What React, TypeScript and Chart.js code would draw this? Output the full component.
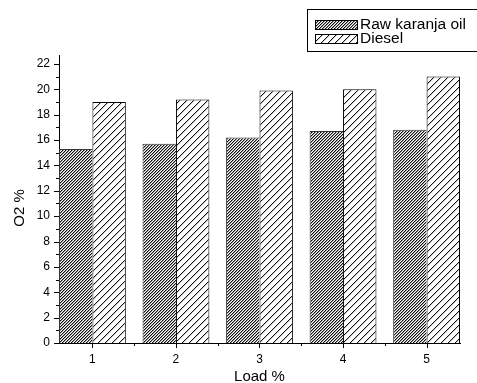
import React, { useEffect, useRef } from "react";
import { Chart, registerables } from "chart.js";

Chart.register(...registerables);

const loads = [1, 2, 3, 4, 5];
const rawKaranja = [15.3, 15.7, 16.2, 16.7, 16.8];
const diesel = [19.0, 19.2, 19.9, 20.0, 21.0];
const seriesNames = ["Raw karanja oil", "Diesel"];
const xTitle = "Load %";
const yTitle = "O2 %";

const FONT = "'Liberation Sans', Arial, sans-serif";

function makeHatch(size: number, dark: string, soft: string | null): CanvasPattern | string {
  const c = document.createElement("canvas");
  c.width = size;
  c.height = size;
  const g = c.getContext("2d");
  if (!g) return "#fff";
  g.fillStyle = "#fff";
  g.fillRect(0, 0, size, size);
  for (let i = 0; i < size; i++) {
    g.fillStyle = dark;
    g.fillRect(i, size - 1 - i, 1, 1);
    if (soft) {
      g.fillStyle = soft;
      g.fillRect(i, (size - i) % size, 1, 1);
    }
  }
  const p = g.createPattern(c, "repeat");
  return p || "#fff";
}

const decorPlugin = {
  id: "decor",
  afterDraw(chart: any) {
    const ctx = chart.ctx as CanvasRenderingContext2D;
    const xs = chart.scales.x;
    const ys = chart.scales.y;
    const ca = chart.chartArea;
    ctx.save();
    ctx.strokeStyle = "#000";
    ctx.lineWidth = 1;
    ctx.beginPath();
    const yMajor = ys.ticks.map((t: any) => t.value);
    yMajor.forEach((v: number, i: number) => {
      const py = Math.round(ys.getPixelForValue(v)) + 0.5;
      ctx.moveTo(ca.left - 5, py);
      ctx.lineTo(ca.left, py);
      const next = yMajor[i + 1];
      const mid = next !== undefined ? (v + next) / 2 : v + (v - (yMajor[i - 1] ?? v - 2)) / 2;
      if (mid < ys.max) {
        const pm = Math.round(ys.getPixelForValue(mid)) + 0.5;
        ctx.moveTo(ca.left - 3, pm);
        ctx.lineTo(ca.left, pm);
      }
    });
    const xMajor = xs.ticks.map((t: any) => t.value);
    xMajor.forEach((v: number, i: number) => {
      const px = Math.round(xs.getPixelForValue(v)) + 0.5;
      ctx.moveTo(px, ca.bottom);
      ctx.lineTo(px, ca.bottom + 5);
      const next = xMajor[i + 1];
      if (next !== undefined) {
        const pm = Math.round(xs.getPixelForValue((v + next) / 2)) + 0.5;
        ctx.moveTo(pm, ca.bottom);
        ctx.lineTo(pm, ca.bottom + 3);
      }
    });
    ctx.stroke();

    // y axis title
    ctx.fillStyle = "#000";
    ctx.font = `15px ${FONT}`;
    ctx.textAlign = "center";
    ctx.textBaseline = "middle";
    ctx.save();
    ctx.translate(20, 208);
    ctx.rotate(-Math.PI / 2);
    ctx.fillText(yTitle, 0, 0);
    ctx.restore();

    // legend
    ctx.strokeStyle = "#000";
    ctx.lineWidth = 1;
    ctx.strokeRect(307.5, 9.5, 200, 42);
    const rows = [20, 34];
    chart.data.datasets.forEach((ds: any, i: number) => {
      const top = rows[i];
      ctx.fillStyle = ds.backgroundColor;
      ctx.fillRect(315, top, 42, 9);
      ctx.strokeStyle = "#000";
      ctx.strokeRect(315.5, top + 0.5, 42, 9);
      ctx.fillStyle = "#000";
      ctx.font = `15.5px ${FONT}`;
      ctx.textAlign = "left";
      ctx.textBaseline = "middle";
      ctx.fillText(ds.label, 360, top + 5);
    });
    ctx.restore();
  },
};

export default function App() {
  const ref = useRef<HTMLCanvasElement | null>(null);
  useEffect(() => {
    if (!ref.current) return;
    const rawPat = makeHatch(3, "#111", "#9a9a9a");
    const dieselPat = makeHatch(7, "#111", "#c8c8c8");
    const chart = new Chart(ref.current, {
      type: "bar",
      data: {
        datasets: [
          {
            label: seriesNames[0],
            data: loads.map((x, i) => ({ x, y: rawKaranja[i] })),
            backgroundColor: rawPat as any,
            borderColor: "#333",
            borderWidth: { left: 1, top: 1, right: 0, bottom: 0 },
            borderSkipped: false,
          },
          {
            label: seriesNames[1],
            data: loads.map((x, i) => ({ x, y: diesel[i] })),
            backgroundColor: dieselPat as any,
            borderColor: "#000",
            borderWidth: { left: 1, top: 1, right: 1, bottom: 0 },
            borderSkipped: false,
          },
        ],
      },
      options: {
        responsive: false,
        animation: false,
        layout: { padding: { top: 55, right: 17, left: 0, bottom: 0 } },
        datasets: { bar: { categoryPercentage: 0.8, barPercentage: 1 } },
        plugins: { legend: { display: false }, tooltip: { enabled: false } },
        scales: {
          x: {
            type: "linear",
            min: 0.6,
            max: 5.4,
            offset: false,
            grid: { display: false, drawTicks: false },
            border: { display: true, color: "#000", width: 1 },
            ticks: {
              stepSize: 1,
              includeBounds: false,
              padding: 9,
              color: "#000",
              font: { family: FONT, size: 12 },
              maxRotation: 0,
            },
            title: {
              display: true,
              text: xTitle,
              color: "#000",
              font: { family: FONT, size: 15, lineHeight: 0.8 },
              padding: { top: 0, bottom: 0 },
            },
            afterFit: (s: any) => {
              s.height = 40;
            },
          },
          y: {
            type: "linear",
            min: 0,
            max: 22.7,
            grid: { display: false, drawTicks: false },
            border: { display: true, color: "#000", width: 1 },
            ticks: {
              stepSize: 2,
              includeBounds: false,
              padding: 9,
              color: "#000",
              font: { family: FONT, size: 12 },
            },
            afterFit: (s: any) => {
              s.width = 59;
            },
          },
        },
      },
      plugins: [decorPlugin],
    });
    return () => chart.destroy();
  }, []);
  return (
    <div style={{ position: "absolute", left: 0, top: 0, width: 477, height: 383, background: "#fff" }}>
      <canvas ref={ref} width={477} height={383} style={{ display: "block" }} />
    </div>
  );
}
